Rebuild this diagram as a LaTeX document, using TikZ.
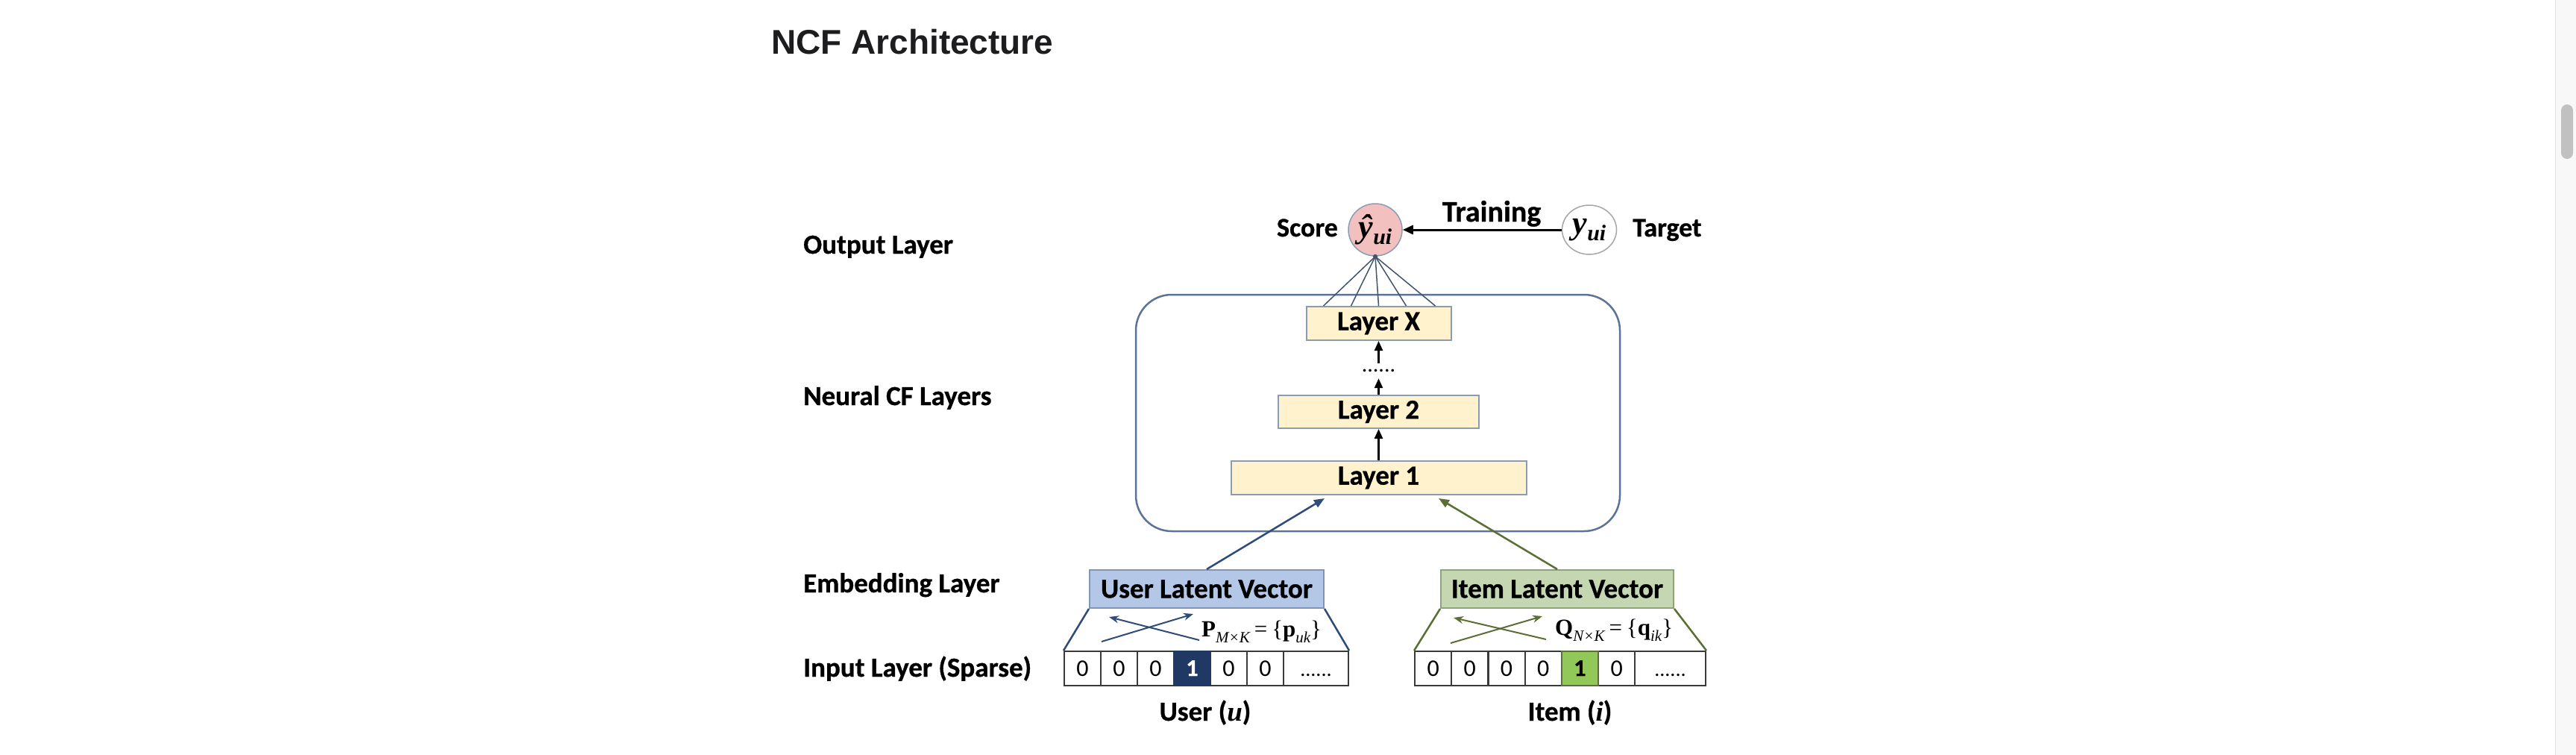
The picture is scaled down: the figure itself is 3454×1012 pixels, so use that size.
\documentclass[tikz,border=0pt]{standalone}
\usepackage{fontspec}
\setmainfont{Carlito}[BoldFeatures={FakeBold=0.8}]
\newfontfamily\titlefont{Liberation Sans}
\newfontfamily\tms{Liberation Serif}
\usetikzlibrary{arrows.meta,shapes.geometric}
\newcommand\fs[1]{\fontsize{#1}{#1}\selectfont}
\definecolor{titlecol}{HTML}{1D1D1F}
\definecolor{ncfblue}{HTML}{5B7396}
\definecolor{layerfill}{HTML}{FFF2CC}
\definecolor{layerdraw}{HTML}{8A9CB5}
\definecolor{userfill}{HTML}{B4C7E7}
\definecolor{userdraw}{HTML}{7F96BA}
\definecolor{itemfill}{HTML}{C5D6B2}
\definecolor{itemdraw}{HTML}{8DA477}
\definecolor{navy}{HTML}{1F3864}
\definecolor{usrline}{HTML}{2F4B7A}
\definecolor{itmline}{HTML}{5A6F33}
\definecolor{onegreen}{HTML}{92C85A}
\definecolor{scorefill}{HTML}{F2C0BE}
\definecolor{scoredraw}{HTML}{8A9BB5}
\definecolor{fanline}{HTML}{44546A}
\definecolor{celldraw}{HTML}{3A3A3A}
\definecolor{scrolltrack}{HTML}{F8F8F8}
\definecolor{scrollline}{HTML}{E6E6E6}
\definecolor{scrollthumb}{HTML}{C1C1C1}
\begin{document}
\begin{tikzpicture}[x=1pt,y=-1pt,
  lbl/.style={anchor=base west, font=\bfseries\fs{37}, inner sep=0pt},
  layerbox/.style={draw=layerdraw, fill=layerfill, line width=2pt, inner sep=0pt, font=\bfseries\fs{37}},
  blkarrow/.style={black, line width=2.5pt, -{Triangle[length=13pt,width=11pt]}},
  fan/.style={fanline, line width=1.5pt},
  cell/.style={draw=celldraw, line width=2pt, minimum width=49pt, minimum height=46pt, inner sep=0pt, text height=20pt, text depth=0pt, font=\fs{32}},
  circ/.style={ellipse, inner sep=0pt, line width=1.5pt},
  vecbox/.style={line width=2pt, inner sep=0pt, minimum height=51pt, font=\bfseries\fs{37}},
  crossarrow/.style={line width=2pt, -{Stealth[length=13pt,width=10pt]}},
  embarrow/.style={line width=2.5pt, -{Triangle[length=14pt,width=11pt]}}
]
\fill[white] (0,0) rectangle (3454,1012);
\useasboundingbox (0,0) rectangle (3454,1012);

% scrollbar
\fill[scrolltrack] (3426,0) rectangle (3454,1012);
\draw[scrollline, line width=1.5pt] (3426.5,0) -- (3426.5,1012);
\fill[scrollthumb, rounded corners=8pt] (3434,140) rectangle (3450,213);

% title
\node[anchor=base west, font=\titlefont\bfseries\fs{46}, text=titlecol, inner sep=0pt] (title) at (1034,72) {NCF Architecture};

% left labels
\node[lbl] (lout) at (1077,340) {Output Layer};
\node[lbl] (lneu) at (1077,543) {Neural CF Layers};
\node[lbl] (lemb) at (1077,794) {Embedding Layer};
\node[lbl] (linp) at (1077,907) {Input Layer (Sparse)};

% output layer
\node[circ, fill=scorefill, draw=scoredraw, minimum width=72pt, minimum height=70pt] (score) at (1844,308)
  {\tms\bfseries\itshape\fs{44}ŷ\raisebox{-9pt}{\fs{30}ui}};
\node[circ, fill=white, draw=gray!70, minimum width=73pt, minimum height=66pt] (target) at (2131,308)
  {\tms\bfseries\itshape\fs{44}y\raisebox{-9pt}{\fs{30}ui}};
\node[anchor=base east, font=\bfseries\fs{36}, inner sep=0pt] (scorelbl) at (1794,317) {Score};
\node[anchor=base west, font=\bfseries\fs{36}, inner sep=0pt] (targetlbl) at (2189,317) {Target};
\node[anchor=base, font=\bfseries\fs{40}, inner sep=0pt] (training) at (2000,297) {Training};
\draw[black, line width=3pt, -{Triangle[length=14pt,width=12pt]}] (target) -- (score);

% neural CF layers
\node[draw=ncfblue, line width=2.5pt, rounded corners=48pt, minimum width=649pt, minimum height=317pt, inner sep=0pt] (ncf) at (1847.5,553.5) {};
\node[layerbox, minimum width=194pt, minimum height=45pt] (lx) at (1848.5,433.5) {Layer X};
\node[layerbox, minimum width=269pt, minimum height=44pt] (l2) at (1848.5,552) {Layer 2};
\node[layerbox, minimum width=396pt, minimum height=45pt] (l1) at (1848.5,640.5) {Layer 1};
\node[inner sep=0pt, minimum height=20pt, font=\fs{30}] (ldots) at (1848.5,497) {......};
\draw[blkarrow] (l1) -- (l2);
\draw[blkarrow] (l2) -- (ldots);
\draw[blkarrow] (ldots) -- (lx);

% fan from layer X to score
\foreach \dx in {-74,-37,0,37,76} \draw[fan] (score.south) -- ([xshift=\dx pt]lx.north);
\fill[fanline] (score.south) circle (3pt);

% embedding layer
\node[vecbox, fill=userfill, draw=userdraw, minimum width=314pt] (uv) at (1618,789.5) {User Latent Vector};
\node[vecbox, fill=itemfill, draw=itemdraw, minimum width=312pt] (iv) at (2088,789.5) {Item Latent Vector};

% input rows
\foreach \k in {0,1,2,4,5} \node[cell] (u\k) at ({1451.5+49*\k},896) {0};
\node[cell, fill=navy, draw=navy, text=white, font=\bfseries\fs{32}] (u3) at ({1451.5+49*3},896) {1};
\node[cell, minimum width=87pt, font=\fs{28}] (u6) at (1764.5,896) {......};

\foreach \k in {0,1,2,3,5} \node[cell] (i\k) at ({1921.6+49.2*\k},896) {0};
\node[cell, fill=onegreen, draw=itmline, font=\bfseries\fs{32}] (i4) at ({1921.6+49.2*4},896) {1};
\node[cell, minimum width=95pt, font=\fs{28}] (i6) at (2239.5,896) {......};

% trapezoids
\draw[usrline, line width=2.5pt] (uv.south west) -- (u0.north west);
\draw[usrline, line width=2.5pt] (uv.south east) -- (u6.north east);
\draw[itmline, line width=2.5pt] (iv.south west) -- (i0.north west);
\draw[itmline, line width=2.5pt] (iv.south east) -- (i6.north east);

% cross arrows
\coordinate (uc1a) at (1477,860); \coordinate (uc1b) at (1600,823);
\coordinate (uc2a) at (1608,858); \coordinate (uc2b) at (1487,827);
\draw[usrline, crossarrow] (uc1a) -- (uc1b);
\draw[usrline, crossarrow] (uc2a) -- (uc2b);
\coordinate (ic1a) at (1945,862); \coordinate (ic1b) at (2068,826);
\coordinate (ic2a) at (2073,857); \coordinate (ic2b) at (1949,828);
\draw[itmline, crossarrow] (ic1a) -- (ic1b);
\draw[itmline, crossarrow] (ic2a) -- (ic2b);

% matrices
\node[anchor=base west, inner sep=0pt] (pmat) at (1611,853)
  {\tms\fs{31}\textbf{P}\raisebox{-8pt}{\fs{21}\itshape M×K}\hspace{6pt}=\hspace{6pt}\{\textbf{p}\raisebox{-8pt}{\fs{21}\itshape uk}\}};
\node[anchor=base west, inner sep=0pt] (qmat) at (2085,851)
  {\tms\fs{31}\textbf{Q}\raisebox{-8pt}{\fs{21}\itshape N×K}\hspace{6pt}=\hspace{6pt}\{\textbf{q}\raisebox{-8pt}{\fs{21}\itshape ik}\}};

% embedding arrows into layer 1
\coordinate (uin) at (1776,668);
\coordinate (iin) at (1929,668);
\draw[usrline, embarrow] (uv.north) -- (uin);
\draw[itmline, embarrow] (iv.north) -- (iin);

% bottom labels
\node[anchor=base, font=\bfseries\fs{37}, inner sep=0pt] (ulab) at (1616,966) {User ({\tms\bfseries\itshape u})};
\node[anchor=base, font=\bfseries\fs{37}, inner sep=0pt] (ilab) at (2105,966) {Item ({\tms\bfseries\itshape i})};
\end{tikzpicture}
\end{document}
